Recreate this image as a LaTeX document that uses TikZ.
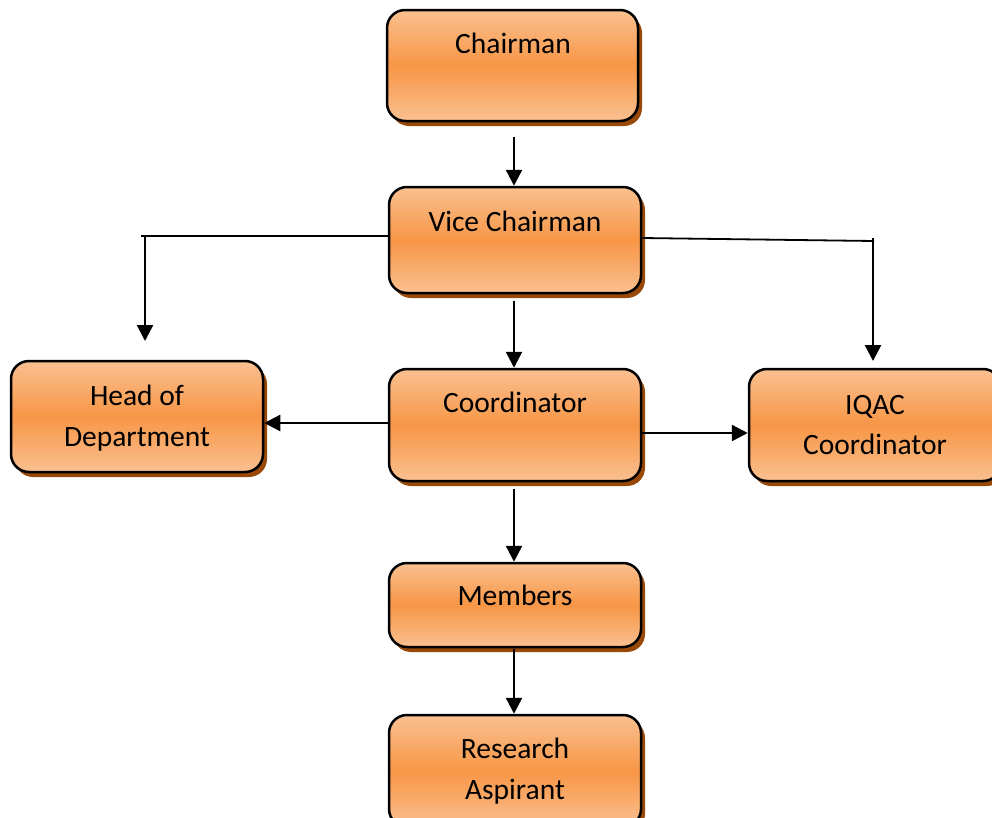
\documentclass[tikz,border=0pt]{standalone}
\usepackage{fontspec}
\setmainfont{Carlito}
\usetikzlibrary{arrows.meta,shadows}
\definecolor{orLight}{RGB}{250,192,144}
\definecolor{orMid}{RGB}{247,150,70}
\definecolor{shadowbrown}{RGB}{152,72,7}
\tikzset{
  box/.style={draw=black, line width=2.5pt, rounded corners=18pt,
    top color=orLight, bottom color=orLight, middle color=orMid,
    drop shadow={shadow xshift=4pt, shadow yshift=-5pt, fill=shadowbrown, opacity=1},
    inner sep=0pt},
  lbl/.style={anchor=base, inner sep=0pt, font=\fontsize{29.5}{41}\selectfont},
  conn/.style={line width=2.4pt, -{Triangle[length=16pt,width=16pt]}},
  plain/.style={line width=1.8pt}
}
\begin{document}
\begin{tikzpicture}[x=1pt,y=-1pt]
\useasboundingbox (0,0) rectangle (992,817);
% boxes
\node[box, minimum width=251pt, minimum height=111pt] (ch) at (512.5,65.5) {};
\node[box, minimum width=252pt, minimum height=106pt] (vc) at (515,240) {};
\node[box, minimum width=252pt, minimum height=111pt] (hod) at (137,416.5) {};
\node[box, minimum width=252pt, minimum height=112pt] (co) at (515,425) {};
\node[box, minimum width=252pt, minimum height=112pt] (iq) at (875,425) {};
\node[box, minimum width=252pt, minimum height=84pt] (me) at (515,605) {};
\node[box, minimum width=252pt, minimum height=112pt] (ra) at (515,771) {};
% labels
\node[lbl] (tch) at (513,53) {Chairman};
\node[lbl] (tvc) at (515,231) {Vice Chairman};
\node[lbl] (thod1) at (137,405) {Head of};
\node[lbl] (thod2) at (137,446) {Department};
\node[lbl] (tco) at (515,412) {Coordinator};
\node[lbl] (tiq1) at (875,414) {IQAC};
\node[lbl] (tiq2) at (875,454) {Coordinator};
\node[lbl] (tme) at (515,605) {Members};
\node[lbl] (tra1) at (515,758) {Research};
\node[lbl] (tra2) at (515,799) {Aspirant};
% free ends and corners
\coordinate (a1s) at (514,137);
\coordinate (a2s) at (514,301);
\coordinate (a3s) at (514,489);
\coordinate (a4s) at (514,649);
\coordinate (lcorner) at (141,236);
\coordinate (ldown) at (145,237);
\coordinate (lend) at (145,341);
\coordinate (rcorner) at (874,241);
\coordinate (rdown) at (873,238);
\coordinate (rend) at (873,361);
\coordinate (hy) at (0,423);
\coordinate (iy) at (0,433);
\coordinate (vly) at (0,236);
\coordinate (vry) at (0,238);
% connectors
\draw[conn] (a1s) -- (vc.north -| a1s);
\draw[conn] (a2s) -- (co.north -| a2s);
\draw[conn] (a3s) -- (me.north -| a3s);
\draw[conn] (a4s) -- (ra.north -| a4s);
\draw[plain] (vc.west |- vly) -- (lcorner);
\draw[conn] (ldown) -- (lend);
\draw[plain] (vc.east |- vry) -- (rcorner);
\draw[conn] (rdown) -- (rend);
\draw[conn] (co.west |- hy) -- (hod.east |- hy);
\draw[conn] (co.east |- iy) -- (iq.west |- iy);
\end{tikzpicture}
\end{document}
